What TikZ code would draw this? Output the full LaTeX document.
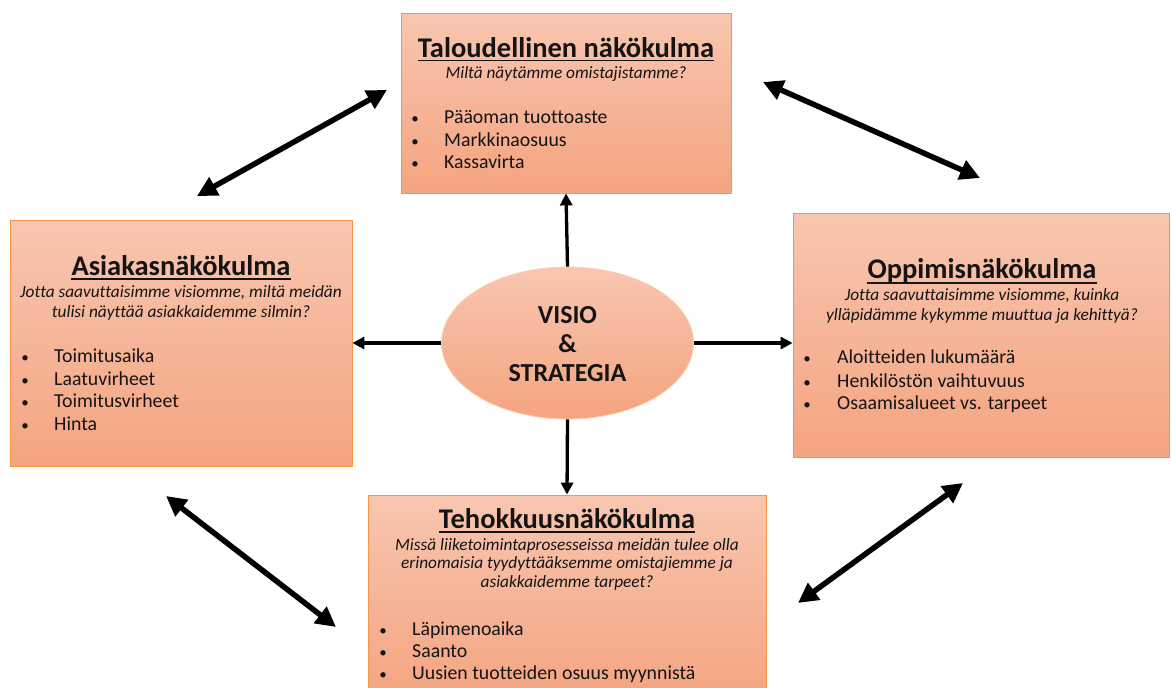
\documentclass[tikz,border=0pt]{standalone}
\usepackage{fontspec}
\setmainfont{Carlito}[Ligatures=NoCommon]
\usetikzlibrary{arrows.meta,shapes.geometric}
\definecolor{boxtop}{RGB}{248,198,176}
\definecolor{boxbot}{RGB}{244,164,128}
\definecolor{boxedge}{RGB}{247,150,70}
\definecolor{ink}{RGB}{20,20,20}

\begin{document}
\begin{tikzpicture}[x=1pt,y=-1pt,
  panel/.style={rectangle, draw=boxedge, line width=0.8pt, top color=boxtop, bottom color=boxbot, inner sep=0pt},
  hub/.style={ellipse, draw=boxedge!45, line width=0.8pt, top color=boxtop, bottom color=boxbot, inner sep=0pt},
  ttl/.style={font=\fontsize{28.5}{32}\selectfont\bfseries, anchor=base, inner sep=0pt, text=ink},
  qst/.style={font=\fontsize{17.3}{20}\selectfont\itshape, anchor=base, inner sep=0pt, text=ink},
  itm/.style={font=\fontsize{19.8}{23}\selectfont, anchor=base west, inner sep=0pt, text=ink},
  dot/.style={font=\fontsize{15}{18}\selectfont, anchor=base, inner sep=0pt, text=ink},
  hubtext/.style={font=\fontsize{26}{29}\selectfont\bfseries, align=center, inner sep=0pt, text=ink},
  link/.style={line width=3.3pt, -{Triangle[length=12pt,width=12pt]}},
  twoway/.style={line width=5.5pt, {Triangle[length=20pt,width=20pt]}-{Triangle[length=20pt,width=20pt]}},
  uline/.style={line width=1.8pt, ink}
]
\useasboundingbox (0,0) rectangle (1171,688);

% the four perspective panels
\node[panel, minimum width=330pt, minimum height=180pt] (tal) at (566,103) {};
\node[panel, minimum width=342pt, minimum height=246pt] (asi) at (181,343) {};
\node[panel, minimum width=376pt, minimum height=244pt] (opp) at (981,335) {};
\node[panel, minimum width=398pt, minimum height=205pt] (teh) at (567,597.5) {};

% vision & strategy in the middle
\node[hub, minimum width=252pt, minimum height=152pt] (vs) at (567.5,343) {};
\node[hubtext] (vstext) at (567.5,344) {VISIO\\\&\\STRATEGIA};

% financial perspective
\node[ttl] (talt) at (566,57) {Taloudellinen näkökulma};
\draw[uline] ([yshift=-3.5pt]talt.base west) -- ([yshift=-3.5pt]talt.base east);
\node[qst] (talq) at (566,78) {Miltä näytämme omistajistamme?};
\node[dot] (tald1) at (415,123) {\textbullet};
\node[itm] (tali1) at (444,123) {Pääoman tuottoaste};
\node[dot] (tald2) at (415,146) {\textbullet};
\node[itm] (tali2) at (444,146) {Markkinaosuus};
\node[dot] (tald3) at (415,168) {\textbullet};
\node[itm] (tali3) at (444,168) {Kassavirta};

% customer perspective
\node[ttl] (asit) at (181,275) {Asiakasnäkökulma};
\draw[uline] ([yshift=-4pt]asit.base west) -- ([yshift=-4pt]asit.base east);
\node[qst] (asiq1) at (181,297) {Jotta saavuttaisimme visiomme, miltä meidän};
\node[qst] (asiq2) at (181,317) {tulisi näyttää asiakkaidemme silmin?};
\node[dot] (asid1) at (25,362) {\textbullet};
\node[itm] (asii1) at (54,362) {Toimitusaika};
\node[dot] (asid2) at (25,385) {\textbullet};
\node[itm] (asii2) at (54,385) {Laatuvirheet};
\node[dot] (asid3) at (25,407) {\textbullet};
\node[itm] (asii3) at (54,407) {Toimitusvirheet};
\node[dot] (asid4) at (25,430) {\textbullet};
\node[itm] (asii4) at (54,430) {Hinta};

% learning perspective
\node[ttl] (oppt) at (982,278) {Oppimisnäkökulma};
\draw[uline] ([yshift=-5pt]oppt.base west) -- ([yshift=-5pt]oppt.base east);
\node[qst] (oppq1) at (982,300) {Jotta saavuttaisimme visiomme, kuinka};
\node[qst] (oppq2) at (982,320) {ylläpidämme kykymme muuttua ja kehittyä?};
\node[dot] (oppd1) at (807,363) {\textbullet};
\node[itm] (oppi1) at (837,363) {Aloitteiden lukumäärä};
\node[dot] (oppd2) at (807,387) {\textbullet};
\node[itm] (oppi2) at (837,387) {Henkilöstön vaihtuvuus};
\node[dot] (oppd3) at (807,409) {\textbullet};
\node[itm] (oppi3) at (837,409) {Osaamisalueet vs. tarpeet};

% efficiency perspective
\node[ttl] (teht) at (567,528) {Tehokkuusnäkökulma};
\draw[uline] ([yshift=-4pt]teht.base west) -- ([yshift=-4pt]teht.base east);
\node[qst] (tehq1) at (567,550) {Missä liiketoimintaprosesseissa meidän tulee olla};
\node[qst] (tehq2) at (567,568.5) {erinomaisia tyydyttääksemme omistajiemme ja};
\node[qst] (tehq3) at (567,587) {asiakkaidemme tarpeet?};
\node[dot] (tehd1) at (383,635) {\textbullet};
\node[itm] (tehi1) at (412,635) {Läpimenoaika};
\node[dot] (tehd2) at (383,657) {\textbullet};
\node[itm] (tehi2) at (412,657) {Saanto};
\node[dot] (tehd3) at (383,679) {\textbullet};
\node[itm] (tehi3) at (412,679) {Uusien tuotteiden osuus myynnistä};

% arrows from the centre to each panel
\draw[link] (vs.north) -- (tal.south);
\draw[link] (vs.west) -- (vs.west -| asi.east);
\draw[link] (vs.east) -- (vs.east -| opp.west);
\draw[link] (vs.south) -- (teh.north);

% two-way arrows between neighbouring panels
\coordinate (tlA) at (197,196);
\coordinate (tlB) at (387,90);
\coordinate (trA) at (763,82);
\coordinate (trB) at (980,178);
\coordinate (blA) at (166,496);
\coordinate (blB) at (336,627);
\coordinate (brA) at (963,483);
\coordinate (brB) at (798,603);
\draw[twoway] (tlA) -- (tlB);
\draw[twoway] (trA) -- (trB);
\draw[twoway] (blA) -- (blB);
\draw[twoway] (brA) -- (brB);
\end{tikzpicture}
\end{document}
